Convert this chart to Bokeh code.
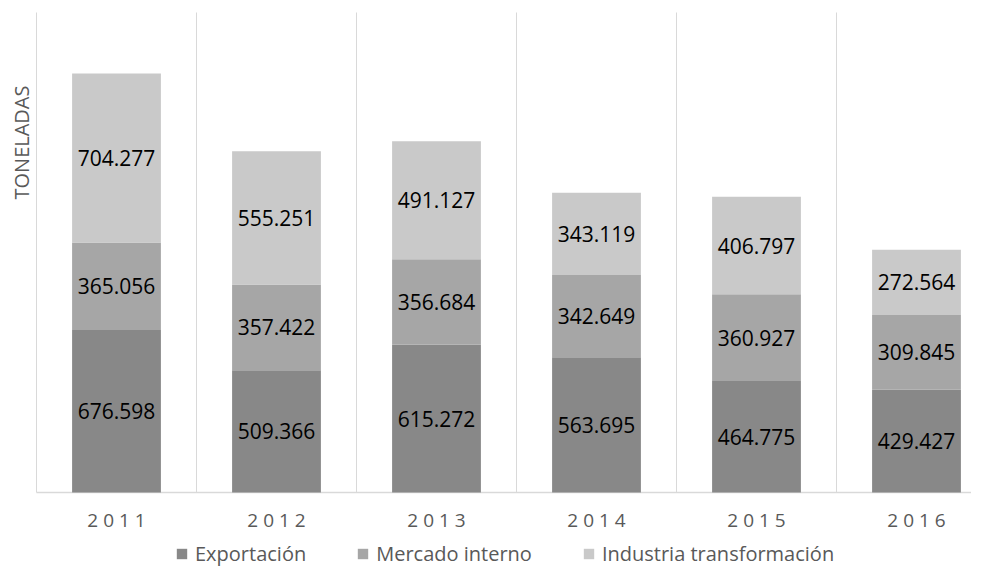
from math import pi
from bokeh.plotting import figure
from bokeh.models import Range1d, Legend, LegendItem, Label, ColumnDataSource
from bokeh.core.properties import value
from bokeh.embed import file_html
from bokeh.resources import INLINE

years = ["2011", "2012", "2013", "2014", "2015", "2016"]
exportacion = [676.598, 509.366, 615.272, 563.695, 464.775, 429.427]
mercado = [365.056, 357.422, 356.684, 342.649, 360.927, 309.845]
industria = [704.277, 555.251, 491.127, 343.119, 406.797, 272.564]
series_names = ["Exportación", "Mercado interno", "Industria transformación"]
colors = ["#888888", "#a6a6a6", "#c9c9c9"]
y_title = "TONELADAS"
y_max = 2000

FONT = "Open Sans"
GRID = "#d9d9d9"
TXT = "#595959"

xs = list(range(len(years)))
series = [exportacion, mercado, industria]

# layout in pixels (whole canvas is the plotting frame)
W, H = 971, 567
LEFT_PX = 36          # first category boundary
CAT_PX = 160          # width of one category
TOP_PX = 12           # top of the value scale
BASE_PX = 492         # baseline (value 0)
UPP = y_max / (BASE_PX - TOP_PX)   # units per pixel

x0 = -0.5 - LEFT_PX / CAT_PX
x1 = x0 + W / CAT_PX
y1 = y_max + TOP_PX * UPP
y0 = -(H - BASE_PX) * UPP

p = figure(width=W, height=H, output_backend="svg", toolbar_location=None,
           x_range=Range1d(x0, x1), y_range=Range1d(y0, y1),
           min_border=0, x_axis_location=None, y_axis_location=None,
           outline_line_color=None)
p.xgrid.visible = False
p.ygrid.visible = False

# vertical category separators
bounds = [i - 0.5 for i in range(len(years) + 1)]
p.segment(x0=bounds, y0=[0] * len(bounds), x1=bounds, y1=[y_max] * len(bounds),
          line_color=GRID, line_width=1)
# baseline
p.segment(x0=[-0.5], y0=[0], x1=[x1], y1=[0], line_color=GRID, line_width=1.5)

renderers = []
bottoms = [0.0] * len(years)
label_x, label_y, label_t = [], [], []
for vals, col in zip(series, colors):
    tops = [b + v for b, v in zip(bottoms, vals)]
    src = ColumnDataSource(dict(x=xs, bottom=bottoms, top=tops))
    r = p.vbar(x="x", bottom="bottom", top="top", width=0.555, source=src,
               fill_color=col, line_color=None)
    renderers.append(r)
    for i, (b, v) in enumerate(zip(bottoms, vals)):
        label_x.append(xs[i])
        label_y.append(b + v / 2)
        label_t.append(f"{v:.3f}")
    bottoms = tops

p.text(x=label_x, y=label_y, text=label_t, text_align="center", text_baseline="middle",
       text_font=value(FONT), text_font_size="21px", text_color="#000000")

# category labels (letter-spaced)
p.text(x=xs, y=[-(519 - BASE_PX) * UPP] * len(xs), text=[" ".join(y) for y in years],
       text_align="center", text_baseline="middle", text_font=value(FONT),
       text_font_size="19px", text_color=TXT)

p.add_layout(Label(x=x0 + 21 / CAT_PX, y=(BASE_PX - 142) * UPP, text=y_title, angle=pi / 2,
                   text_align="center", text_baseline="middle", text_font=FONT,
                   text_font_size="20px", text_color=TXT))

legend = Legend(items=[LegendItem(label=n, renderers=[r]) for n, r in zip(series_names, renderers)],
                orientation="horizontal", location=(175, 0), spacing=50,
                glyph_width=13, glyph_height=13, label_standoff=7, padding=0, margin=0,
                border_line_color=None, background_fill_alpha=0,
                label_text_font=FONT, label_text_font_size="20px", label_text_color=TXT)
p.add_layout(legend)

open("out.html", "w").write(file_html(p, INLINE))
